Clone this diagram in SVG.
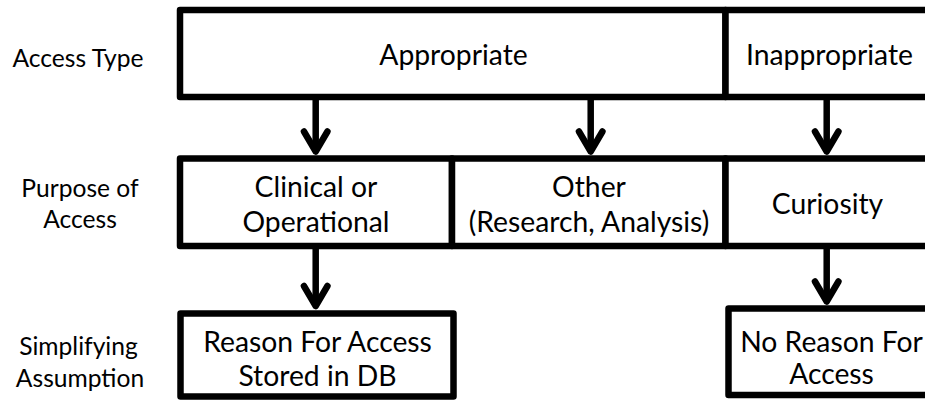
<svg xmlns="http://www.w3.org/2000/svg" width="925" height="402" viewBox="0 0 925 402">
<style>
.box{fill:#fff;stroke:#000;stroke-width:6.5;stroke-linejoin:round}
.t{font-family:Lato,"Open Sans","Liberation Sans",sans-serif;font-size:28.3px;fill:#000;text-anchor:middle}
.lbl{font-family:Lato,"Open Sans","Liberation Sans",sans-serif;font-size:24.6px;fill:#000;text-anchor:middle}
.conn{fill:none;stroke:#000;stroke-width:6.5;marker-end:url(#chev)}
</style>
<defs>
<marker id="chev" markerUnits="userSpaceOnUse" viewBox="-30 -20 40 40" markerWidth="40" markerHeight="40" refX="0" refY="0" orient="auto" overflow="visible">
<polyline points="-20,-11.75 0,0 -20,11.75" fill="none" stroke="#000" stroke-width="6.5" stroke-linecap="round" stroke-linejoin="round"/>
</marker>
</defs>
<g id="labels">
<text class="lbl" x="78" y="67">Access Type</text>
<text class="lbl" x="80" y="197">Purpose of</text>
<text class="lbl" x="80" y="228">Access</text>
<text class="lbl" x="78.5" y="355">Simplifying</text>
<text class="lbl" x="80" y="387">Assumption</text>
</g>
<g id="appropriate">
<rect class="box" x="180" y="10" width="545.5" height="87"/>
<text class="t" x="453.5" y="65">Appropriate</text>
</g>
<g id="inappropriate">
<rect class="box" x="725.5" y="10" width="215" height="87"/>
<text class="t" x="829.5" y="65">Inappropriate</text>
</g>
<g id="clinical">
<rect class="box" x="180" y="158.5" width="272" height="87.5"/>
<text class="t" x="316" y="197">Clinical or</text>
<text class="t" x="316" y="232">Operational</text>
</g>
<g id="other">
<rect class="box" x="452" y="158.5" width="273.5" height="87.5"/>
<text class="t" x="589" y="197">Other</text>
<text class="t" x="589" y="232">(Research, Analysis)</text>
</g>
<g id="curiosity">
<rect class="box" x="725.5" y="158.5" width="215" height="87.5"/>
<text class="t" x="827.5" y="214">Curiosity</text>
</g>
<g id="reason-stored">
<rect class="box" x="180.5" y="313.5" width="273" height="83"/>
<text class="t" x="317.5" y="352">Reason For Access</text>
<text class="t" x="317.5" y="386">Stored in DB</text>
</g>
<g id="no-reason">
<rect class="box" x="728.5" y="308.5" width="212" height="86.5"/>
<text class="t" x="831.5" y="352">No Reason For</text>
<text class="t" x="831.5" y="384">Access</text>
</g>
<g id="connectors">
<path class="conn" d="M315.7,100 V151.5"/>
<path class="conn" d="M590.7,100 V151.5"/>
<path class="conn" d="M826.7,100 V151.5"/>
<path class="conn" d="M315.7,249 V306"/>
<path class="conn" d="M826.7,249 V301.5"/>
</g>
</svg>
